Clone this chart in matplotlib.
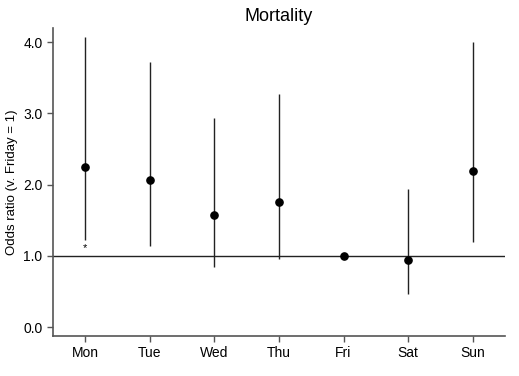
import matplotlib
matplotlib.use("Agg")
import matplotlib.pyplot as plt

# data
days = ["Mon", "Tue", "Wed", "Thu", "Fri", "Sat", "Sun"]
odds = [2.25, 2.07, 1.575, 1.76, 1.0, 0.945, 2.19]
lower = [1.23, 1.145, 0.84, 0.955, 1.0, 0.463, 1.196]
upper = [4.07, 3.72, 2.94, 3.27, 1.0, 1.935, 4.01]
signif = ["*", "", "", "", "", "", ""]

plt.rcParams["font.family"] = ["Liberation Sans", "DejaVu Sans"]

fig = plt.figure(figsize=(5.19, 3.76), dpi=100)
ax = fig.add_axes([0.102, 0.107, 0.871, 0.8185])

x = list(range(len(days)))
ax.axhline(1.0, color="#222222", lw=1.0, zorder=1)
ax.vlines(x, lower, upper, color="#222222", lw=1.0, zorder=2)
ax.plot(x, odds, "o", color="black", ms=5.2, zorder=3)
for xi, lo, s in zip(x, lower, signif):
    if s:
        ax.text(xi, lo - 0.05, s, ha="center", va="top", fontsize=8)

ax.set_xlim(-0.5, 6.5)
ax.set_ylim(-0.12, 4.2)
ax.set_xticks(x)
ax.set_xticklabels(days)
ax.set_yticks([0, 1, 2, 3, 4])
ax.set_yticklabels(["0.0", "1.0", "2.0", "3.0", "4.0"])
ax.set_ylabel("Odds ratio (v. Friday = 1)", fontsize=9.5, labelpad=4)
ax.set_title("Mortality", fontsize=13, pad=5)

for side in ["top", "right"]:
    ax.spines[side].set_visible(False)
for side in ["left", "bottom"]:
    ax.spines[side].set_color("#555555")
    ax.spines[side].set_linewidth(1.2)
ax.tick_params(colors="#555555", labelcolor="black", labelsize=10, length=4, width=1)

fig.savefig("out.png", dpi=100)
